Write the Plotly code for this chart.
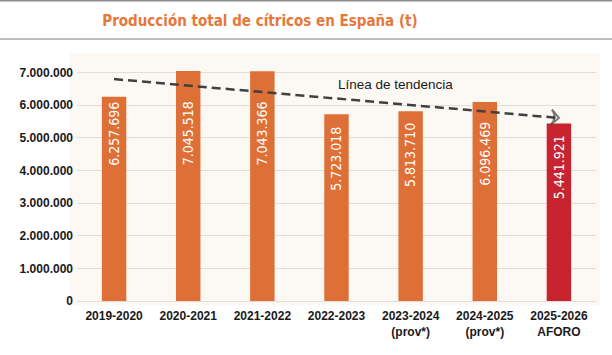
import plotly.graph_objects as go

# ---- data ----
categories = ["2019-2020", "2020-2021", "2021-2022", "2022-2023",
              "2023-2024<br>(prov*)", "2024-2025<br>(prov*)", "2025-2026<br>AFORO"]
production = [6257696, 7045518, 7043366, 5723018, 5813710, 6096469, 5441921]
trend_values = [6800000, 5610000]          # trend line read at first and last season
y_ticks = [0, 1000000, 2000000, 3000000, 4000000, 5000000, 6000000, 7000000]

# ---- styles ----
ORANGE = "#DE7037"
RED = "#C8242F"
bar_colors = [ORANGE] * 6 + [RED]
label_gap_px = [3, 28, 28, 11, 10, 18, 10]   # distance of label below bar top

F_TICK = "Liberation Sans, Arial, sans-serif"
F_TITLE = "DejaVu Sans Condensed, DejaVu Sans, sans-serif"
F_LABEL = "DejaVu Sans Condensed, DejaVu Sans, sans-serif"

W, H = 612, 355
ml, mr, mt, mb = 77, 16, 53, 54
pw, ph = W - ml - mr, H - mt - mb


def px_x(p):
    return (p - ml) / pw


def px_y(p):
    return (H - mb - p) / ph


def fmt(v):
    return f"{v:,}".replace(",", ".")


fig = go.Figure()

fig.add_trace(go.Bar(
    x=categories, y=production, width=0.33,
    marker=dict(color=bar_colors, line=dict(width=0)),
    hoverinfo="skip", showlegend=False,
))

fig.add_trace(go.Scatter(
    x=[categories[0], categories[-1]], y=trend_values,
    mode="lines+markers",
    line=dict(color="#404040", width=2.5, dash="9px,5px"),
    marker=dict(symbol=["circle", "arrow-wide-open"], size=[0, 11],
                angleref="previous", color="#404040",
                line=dict(color="#404040", width=2)),
    hoverinfo="skip", showlegend=False,
))

annotations = []
for i, (c, v) in enumerate(zip(categories, production)):
    annotations.append(dict(
        x=c, y=v, xref="x", yref="y", text=fmt(v), showarrow=False,
        textangle=-90, xanchor="center", yanchor="top",
        yshift=-label_gap_px[i],
        font=dict(family=F_LABEL, size=14, color="white"),
    ))

annotations.append(dict(
    x=3.8, y=6630000, xref="x", yref="y", text="Línea de tendencia",
    showarrow=False, xanchor="center", yanchor="middle",
    font=dict(family="Liberation Sans, Arial, sans-serif", size=13.5, color="#1a1a1a"),
))

shapes = [
    dict(type="rect", xref="paper", yref="paper", layer="below",
         x0=px_x(70), x1=px_x(600), y0=px_y(305), y1=px_y(53),
         fillcolor="#FCF9F5", line=dict(width=0)),
    dict(type="line", xref="paper", yref="paper",
         x0=px_x(0), x1=px_x(612), y0=px_y(0.75), y1=px_y(0.75),
         line=dict(color="#8c8c8c", width=1.5)),
    dict(type="line", xref="paper", yref="paper",
         x0=px_x(0), x1=px_x(612), y0=px_y(39), y1=px_y(39),
         line=dict(color="#bdbdbd", width=2)),
]

fig.update_layout(
    width=W, height=H,
    margin=dict(l=ml, r=mr, t=mt, b=mb, pad=0),
    paper_bgcolor="white", plot_bgcolor="rgba(0,0,0,0)",
    separators=",.",
    title=dict(
        text="Producción total de cítricos en España (t)",
        x=260 / W, xanchor="center", y=1 - 21 / H, yanchor="middle",
        font=dict(family=F_TITLE, size=15, color="#E8773A", weight="bold"),
    ),
    xaxis=dict(
        type="category", showgrid=False, zeroline=False, showline=False,
        automargin=False, ticklabelstandoff=6,
        ticks="", range=[-0.5, len(categories) - 0.5],
        tickfont=dict(family=F_TICK, size=12, color="#1a1a1a", weight="bold"),
    ),
    yaxis=dict(
        range=[0, 7600000], tickvals=y_ticks, tickformat=",d",
        automargin=False, ticklabelstandoff=3,
        showgrid=True, gridcolor="#E2DDD6", gridwidth=1,
        zeroline=True, zerolinecolor="#E2DDD6", zerolinewidth=1,
        showline=False, ticks="",
        tickfont=dict(family=F_TICK, size=12, color="#1a1a1a", weight="bold"),
    ),
    annotations=annotations,
    shapes=shapes,
    bargap=0.67,
)

fig.write_html("out.html", config={"displayModeBar": False},
               post_script="document.body.style.margin='0';")
